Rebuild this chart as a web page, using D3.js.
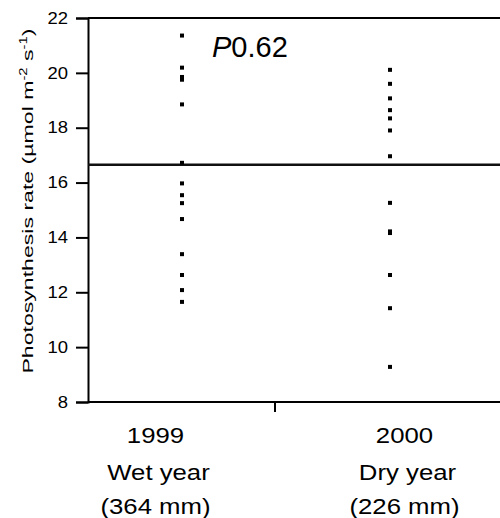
<!DOCTYPE html>
<html>
<head>
<meta charset="utf-8">
<script src="https://cdn.jsdelivr.net/npm/d3@7"></script>
<style>
  body { margin: 0; background: #fff; }
  svg { font-family: "Liberation Sans", Arial, sans-serif; }
</style>
</head>
<body>
<div id="chart"></div>
<script>
// photosynthesis measurements per year
var years = ["1999", "2000"];
var yearType = ["Wet year", "Dry year"];
var rainfall = ["(364 mm)", "(226 mm)"];
var rate1999 = [21.36, 20.19, 19.85, 19.75, 18.85, 16.72, 15.97, 15.54, 15.25, 14.67, 13.39, 12.63, 12.08, 11.65];
var rate2000 = [20.11, 19.6, 19.07, 18.64, 18.34, 17.9, 16.96, 15.26, 14.22, 14.16, 12.63, 11.42, 9.28];
var meanRate = 16.65;
var yTicks = [8, 10, 12, 14, 16, 18, 20, 22];
var pLabel = "0.62";

var width = 500, height = 518;
var plotLeft = 88, plotTop = 18, plotBottom = 402;

var svg = d3.select("#chart").append("svg")
    .attr("width", width)
    .attr("height", height);

var y = d3.scaleLinear().domain([8, 22]).range([plotBottom, plotTop]);
var x = d3.scaleLinear().domain([0, 2]).range([plotLeft, 462]);

// small nudges of the dots and labels off the category centre
var dotShift = [0.5, 21.5];
var labelShift = [-26, 36];
var wide = 1.12;   // fonts are drawn a bit stretched sideways

// y axis
var yAxis = d3.axisLeft(y).tickValues(yTicks).tickSize(12).tickPadding(8);
var gy = svg.append("g")
    .attr("transform", "translate(" + plotLeft + ",0)")
    .call(yAxis);
gy.select(".domain").attr("stroke", "#000").attr("stroke-width", 2);
gy.selectAll(".tick line").attr("stroke", "#000").attr("stroke-width", 2);
gy.selectAll(".tick text")
    .attr("font-size", 16.5)
    .attr("fill", "#000")
    .attr("x", -20 / wide)
    .attr("transform", "scale(" + wide + ",1)");

// x axis with a single divider tick between the years
svg.append("line")
    .attr("x1", plotLeft).attr("x2", width)
    .attr("y1", y(8)).attr("y2", y(8))
    .attr("stroke", "#000").attr("stroke-width", 2);
svg.append("line")
    .attr("x1", x(1)).attr("x2", x(1))
    .attr("y1", y(8)).attr("y2", y(8) + 10)
    .attr("stroke", "#000").attr("stroke-width", 2);

// top frame
svg.append("line")
    .attr("x1", plotLeft).attr("x2", width)
    .attr("y1", y(22)).attr("y2", y(22))
    .attr("stroke", "#000").attr("stroke-width", 2);

// mean line
svg.append("line")
    .attr("x1", plotLeft).attr("x2", width)
    .attr("y1", y(meanRate)).attr("y2", y(meanRate))
    .attr("stroke", "#111").attr("stroke-width", 2.4);

// dots
var groups = [rate1999, rate2000];
groups.forEach(function(vals, i){
  svg.append("g").selectAll("rect")
    .data(vals)
    .enter()
    .append("rect")
    .attr("x", x(i + 0.5) + dotShift[i] - 2)
    .attr("y", function(d){ return y(d) - 2; })
    .attr("width", 4)
    .attr("height", 4)
    .attr("fill", "#000");
});

// category labels
var lab = svg.append("g").attr("font-size", 23).attr("fill", "#000").attr("text-anchor", "middle");
function catText(cx, cy, str){
  lab.append("text")
    .attr("transform", "translate(" + cx + "," + cy + ") scale(" + wide + ",1)")
    .text(str);
}
years.forEach(function(yr, i){
  var cx = x(i + 0.5) + labelShift[i];
  catText(cx, 443, yr);
  catText(cx + 3, 480, yearType[i]);
  catText(cx, 514, rainfall[i]);
});

// P value
var pt = svg.append("text")
    .attr("x", 212).attr("y", 57)
    .attr("font-size", 29)
    .attr("fill", "#000");
pt.append("tspan").attr("font-style", "italic").text("P");
pt.append("tspan").text(pLabel);

// y axis title, stretched along its length
var yt = svg.append("text")
    .attr("transform", "translate(33,201) rotate(-90) scale(1.49,1)")
    .attr("text-anchor", "middle")
    .attr("font-size", 15.5)
    .attr("fill", "#000");
yt.append("tspan").text("Photosynthesis rate (µmol m");
yt.append("tspan").attr("font-size", 10).attr("dy", -6).text("-2");
yt.append("tspan").attr("dy", 6).text(" s");
yt.append("tspan").attr("font-size", 10).attr("dy", -6).text("-1");
yt.append("tspan").attr("dy", 6).text(")");
</script>
</body>
</html>
